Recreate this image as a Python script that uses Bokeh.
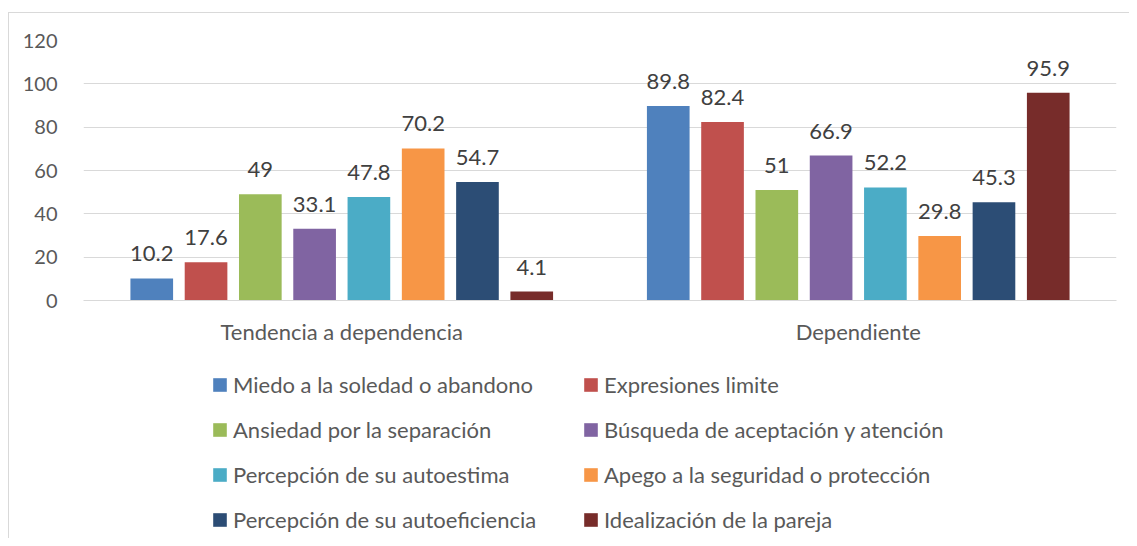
from bokeh.plotting import figure
from bokeh.models import ColumnDataSource, LabelSet, Legend, LegendItem, Range1d, FactorRange, FixedTicker
from bokeh.layouts import column
from bokeh.core.properties import value
from bokeh.transform import dodge
from bokeh.embed import file_html
from bokeh.resources import INLINE

categories = ["Tendencia a dependencia", "Dependiente"]
series_names = [
    "Miedo a la soledad o abandono",
    "Expresiones limite",
    "Ansiedad por la separación",
    "Búsqueda de aceptación y atención",
    "Percepción de su autoestima",
    "Apego a la seguridad o protección",
    "Percepción de su autoeficiencia",
    "Idealización de la pareja",
]
miedo = [10.2, 89.8]
expresiones = [17.6, 82.4]
ansiedad = [49, 51]
busqueda = [33.1, 66.9]
autoestima = [47.8, 52.2]
apego = [70.2, 29.8]
autoeficiencia = [54.7, 45.3]
idealizacion = [4.1, 95.9]
series_values = [miedo, expresiones, ansiedad, busqueda, autoestima, apego, autoeficiencia, idealizacion]
colors = ["#4F81BD", "#C0504D", "#9BBB59", "#8064A2", "#4BACC6", "#F79646", "#2C4D75", "#772C2A"]
y_ticks = [0, 20, 40, 60, 80, 100, 120]

FONT = "Lato"
FS_NUM = "20px"
FS_LAB = "22px"
FS_TXT = "22px"
BORDER = "1px solid #d9d9d9"

p = figure(x_range=FactorRange(*categories), y_range=Range1d(0, 120),
           width=1121, height=343, output_backend="svg", toolbar_location=None,
           min_border_left=74, min_border_right=14, min_border_top=27, min_border_bottom=56)
p.styles = {"border-top": BORDER, "border-left": BORDER}
p.outline_line_color = None
p.xgrid.grid_line_color = None
p.ygrid.grid_line_color = "#d9d9d9"
p.ygrid.grid_line_width = 1.2

p.yaxis.ticker = FixedTicker(ticks=y_ticks)
p.yaxis.axis_line_color = None
p.yaxis.major_tick_line_color = None
p.yaxis.minor_tick_line_color = None
p.yaxis.major_label_standoff = 20
p.yaxis.major_label_text_font = FONT
p.yaxis.major_label_text_font_size = FS_NUM
p.yaxis.major_label_text_color = "#595959"

p.xaxis.axis_line_color = "#d9d9d9"
p.xaxis.axis_line_width = 1.2
p.xaxis.major_tick_line_color = None
p.xaxis.minor_tick_line_color = None
p.xaxis.major_label_standoff = 11
p.xaxis.major_label_text_font = FONT
p.xaxis.major_label_text_font_size = FS_TXT
p.xaxis.major_label_text_color = "#595959"

# legend figure (frame covers whole figure so the legend is not clipped)
lf = figure(width=1121, height=183, output_backend="svg", toolbar_location=None,
            x_axis_location=None, y_axis_location=None,
            x_range=Range1d(0, 1), y_range=Range1d(0, 1),
            min_border_left=0, min_border_right=0, min_border_top=0, min_border_bottom=0)
lf.styles = {"border-left": BORDER}
lf.outline_line_color = None
lf.xgrid.grid_line_color = None
lf.ygrid.grid_line_color = None

n = len(series_names)
pitch = 0.1051
bw = 0.0826
items = []
for i, (name, vals, col) in enumerate(zip(series_names, series_values, colors)):
    off = (i - (n - 1) / 2) * pitch
    src = ColumnDataSource(dict(cat=categories, val=vals, txt=[f"{v:g}" for v in vals]))
    p.vbar(x=dodge("cat", off, range=p.x_range), top="val", width=bw, source=src,
           fill_color=col, line_color=None)
    lab = LabelSet(x=dodge("cat", off, range=p.x_range), y="val", text="txt", source=src,
                   text_align="center", text_baseline="alphabetic", y_offset=17,
                   text_font=value(FONT), text_font_size=value(FS_LAB), text_color="#404040")
    p.add_layout(lab)
    # proxy renderer (outside the visible range) for the legend swatch
    lr = lf.vbar(x=[-10], top=[-10], width=0.1, fill_color=col, line_color=None)
    items.append(LegendItem(label=name, renderers=[lr]))

def make_legend(its, loc):
    return Legend(items=its, location=loc, orientation="vertical",
                  glyph_width=17, glyph_height=17, label_standoff=5, spacing=18,
                  label_height=24, padding=0, margin=0,
                  label_text_font=FONT, label_text_font_size=FS_TXT, label_text_color="#595959",
                  border_line_color=None, background_fill_alpha=0)

lf.add_layout(make_legend(items[0::2], (128, 5)), "center")
lf.add_layout(make_legend(items[1::2], (499, 5)), "center")

layout = column(p, lf, spacing=0)
layout.margin = (12, 0, 0, 8)

open("out.html", "w").write(file_html(layout, INLINE))
